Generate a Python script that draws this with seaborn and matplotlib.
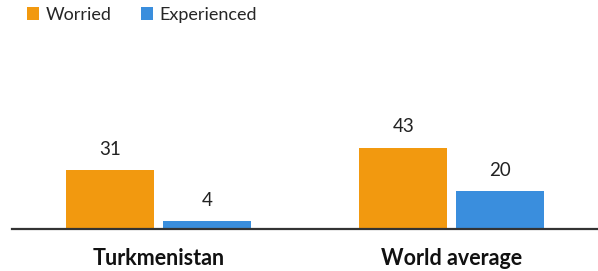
import pandas as pd
import matplotlib.pyplot as plt
import seaborn as sns
from matplotlib.patches import Patch

# Chart data
regions = ['Turkmenistan', 'World average']
series = ['Worried', 'Experienced']
worried = [31, 43]
experienced = [4, 20]
colors = ['#F2990F', '#3A8EDD']

df = pd.DataFrame({
    'region': regions * 2,
    'group': [series[0]] * 2 + [series[1]] * 2,
    'value': worried + experienced,
})

sns.set_style('white')
plt.rcParams['font.family'] = ['Lato', 'DejaVu Sans']

fig = plt.figure(figsize=(5.98, 2.71), dpi=100)
ax = fig.add_axes([12 / 598, 42 / 271, 586 / 598, 208 / 271])

sns.barplot(data=df, x='region', y='value', hue='group', hue_order=series,
            palette=colors, width=0.66, gap=0.09, ax=ax, legend=False,
            saturation=1, edgecolor='none')

# value labels above bars
for cont in ax.containers:
    ax.bar_label(cont, padding=9, fontsize=13.5, color='#222222')

ax.set_ylim(0, 110)
ax.set_xlim(-0.5, 1.5)
ax.set_xlabel('')
ax.set_ylabel('')
ax.set_yticks([])
ax.tick_params(axis='x', length=0, pad=14)
for lbl in ax.get_xticklabels():
    lbl.set_fontweight('bold')
    lbl.set_fontsize(15.5)
    lbl.set_color('#111111')

for side in ['top', 'right', 'left']:
    ax.spines[side].set_visible(False)
ax.spines['bottom'].set_color('#333333')
ax.spines['bottom'].set_linewidth(1.6)

handles = [Patch(facecolor=c, edgecolor='none', label=s) for s, c in zip(series, colors)]
fig.legend(handles=handles, loc='upper left', bbox_to_anchor=(16 / 598, 1.015),
           ncol=2, frameon=False, fontsize=13, handlelength=0.7, handleheight=0.7,
           handletextpad=0.35, columnspacing=1.6, borderaxespad=0.2)

fig.savefig('out.png', dpi=100)
